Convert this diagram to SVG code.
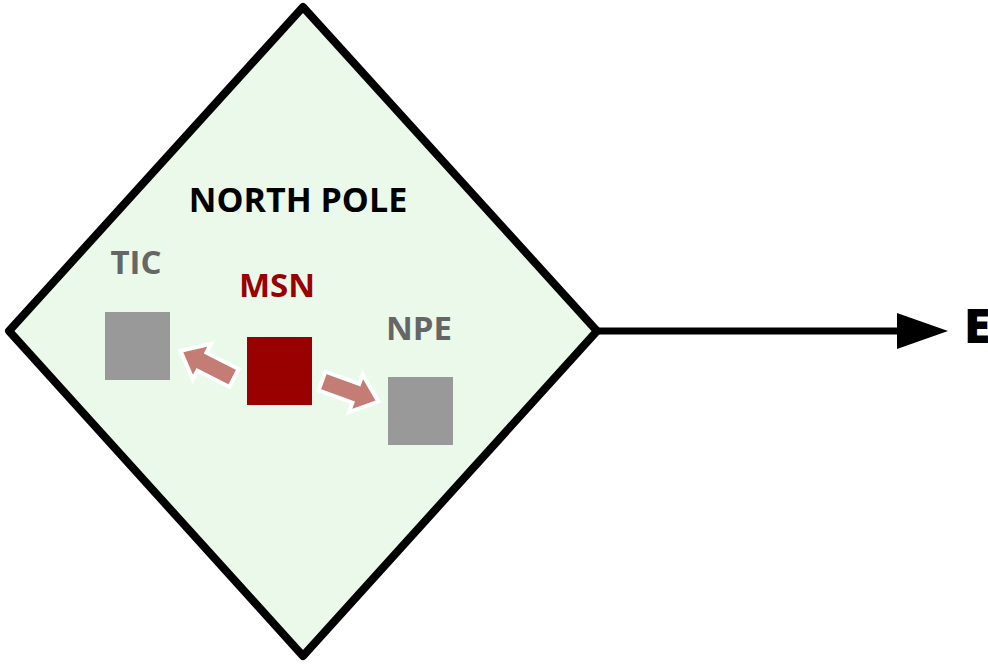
<svg xmlns="http://www.w3.org/2000/svg" width="988" height="665" viewBox="0 0 988 665">
  <defs>
    <style>
      .lbl { font-family: "Open Sans", "Liberation Sans", sans-serif; font-weight: bold; text-anchor: middle; }
      .gray { fill: #999999; }
      .gtxt { fill: #666666; font-size: 33px; }
      .blk { fill: #c47d75; stroke: #ffffff; stroke-width: 4; stroke-linejoin: miter; }
    </style>
    <path id="blockArrow" d="M0,-10 L36,-10 L36,-20 L60,0 L36,20 L36,10 L0,10 Z"/>
  </defs>
  <rect width="988" height="665" fill="#ffffff"/>
  <g id="north-pole">
    <polygon points="303,7 9,331 303,656 597,331" fill="#ebf9ea" stroke="#000000" stroke-width="8" stroke-linejoin="round"/>
    <text class="lbl" x="298" y="212" font-size="34" fill="#000000">NORTH POLE</text>
  </g>
  <g id="tic">
    <rect class="gray" x="105" y="312" width="65" height="68"/>
    <text class="lbl gtxt" x="136" y="274">TIC</text>
  </g>
  <g id="msn">
    <rect x="247" y="337" width="65" height="68" fill="#990000"/>
    <text class="lbl" x="277" y="297" font-size="33" fill="#990000">MSN</text>
  </g>
  <g id="npe">
    <rect class="gray" x="388" y="377" width="65" height="68"/>
    <text class="lbl gtxt" x="419" y="340">NPE</text>
  </g>
  <g id="connectors">
    <use href="#blockArrow" class="blk" transform="translate(234,378) rotate(207)"/>
    <use href="#blockArrow" class="blk" transform="translate(322,381) rotate(20)"/>
    <line x1="597" y1="331" x2="900" y2="331" stroke="#000000" stroke-width="7"/>
    <polygon points="897,313 948,331 897,349" fill="#000000"/>
  </g>
  <g id="e">
    <text x="964" y="343" font-family="Open Sans, Liberation Sans, sans-serif" font-weight="800" font-size="48" fill="#000000">E</text>
  </g>
</svg>
